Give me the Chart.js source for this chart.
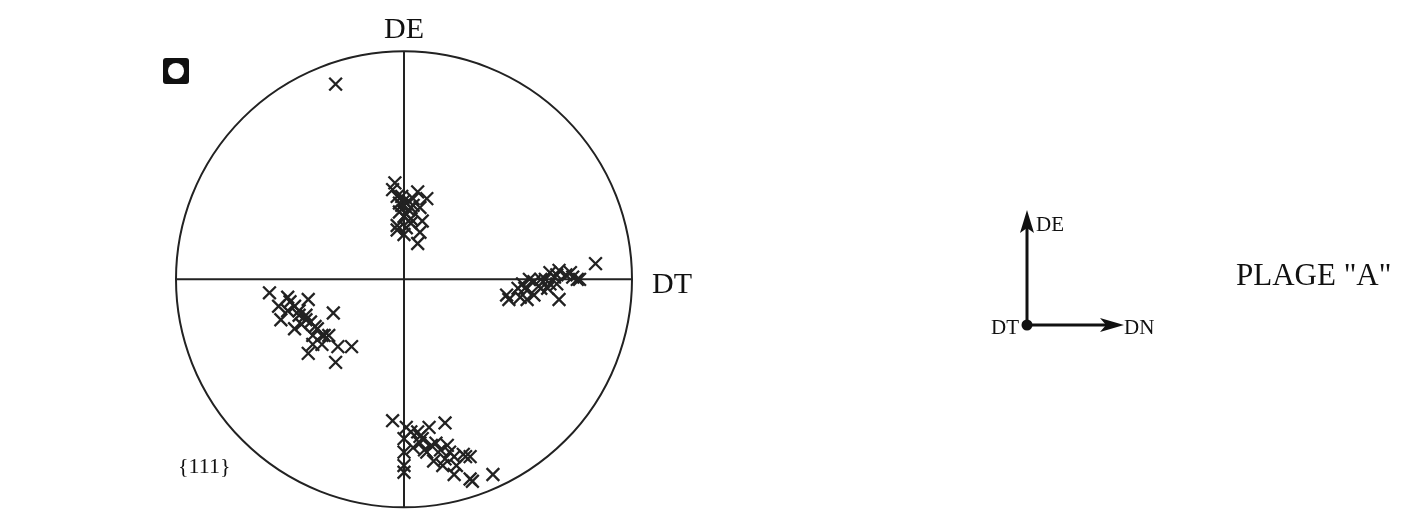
<!DOCTYPE html>
<html><head><meta charset="utf-8">
<script src="https://cdn.jsdelivr.net/npm/chart.js@4/dist/chart.umd.min.js"></script>
<style>
html,body{margin:0;padding:0;background:#fff;}
#wrap{position:relative;width:1409px;height:515px;}
canvas{position:absolute;left:0;top:0;}
.t{position:absolute;font-family:"Liberation Serif","DejaVu Serif",serif;color:#111;white-space:nowrap;line-height:1;}
</style></head><body>
<div id="wrap">
<canvas id="c" width="1409" height="515"></canvas>
<div class="t" style="left:384px;top:13px;font-size:30px;">DE</div>
<div class="t" style="left:652px;top:268px;font-size:30px;">DT</div>
<div class="t" style="left:178px;top:455px;font-size:22px;">{111}</div>
<div class="t" style="left:1036px;top:214px;font-size:21px;">DE</div>
<div class="t" style="left:991px;top:317px;font-size:21px;">DT</div>
<div class="t" style="left:1124px;top:317px;font-size:21px;">DN</div>
<div class="t" style="left:1236px;top:259px;font-size:31px;">PLAGE "A"</div>
</div>
<script>
// Pole figure {111}, coordinates in units of circle radius (x: DT to right, y: DE up)
const poleTop = [[-0.04,0.43],[0.06,0.39],[0.10,0.36],[-0.05,0.40],[-0.03,0.37],[0.00,0.35],[0.04,0.33],[-0.02,0.30],[0.07,0.32],[0.03,0.27],[0.08,0.26],[-0.03,0.24],[0.01,0.23],[0.07,0.21],[-0.03,0.22],[0.06,0.16],[0.00,0.20],[0.01,0.29],[-0.01,0.33],[0.03,0.32],[-0.01,0.37],[0.01,0.34],[0.02,0.31],[0.00,0.28],[0.04,0.36],[-0.02,0.34],[0.03,0.25]];
const poleRight = [[0.84,0.07],[0.45,-0.07],[0.50,-0.04],[0.52,-0.02],[0.55,0.00],[0.60,0.00],[0.64,0.03],[0.68,0.04],[0.71,0.02],[0.76,0.00],[0.77,0.00],[0.57,-0.07],[0.54,-0.09],[0.67,-0.02],[0.63,-0.04],[0.66,0.01],[0.59,-0.03],[0.51,-0.08],[0.46,-0.09],[0.73,0.03],[0.68,-0.09],[0.57,-0.01],[0.62,0.00],[0.64,-0.02],[0.53,-0.04],[0.60,-0.04],[0.67,0.02],[0.74,0.01]];
const poleLeft = [[-0.59,-0.06],[-0.51,-0.08],[-0.42,-0.09],[-0.55,-0.12],[-0.51,-0.14],[-0.46,-0.16],[-0.43,-0.18],[-0.54,-0.18],[-0.31,-0.15],[-0.39,-0.21],[-0.48,-0.22],[-0.35,-0.25],[-0.29,-0.30],[-0.23,-0.30],[-0.40,-0.29],[-0.30,-0.37],[-0.42,-0.33],[-0.36,-0.29],[-0.33,-0.25],[-0.45,-0.20],[-0.48,-0.12],[-0.46,-0.14],[-0.43,-0.16],[-0.41,-0.19],[-0.38,-0.22],[-0.36,-0.25],[-0.50,-0.10],[-0.40,-0.25]];
const poleBottom = [[-0.05,-0.63],[0.01,-0.66],[0.06,-0.68],[0.11,-0.66],[0.18,-0.64],[-0.00,-0.71],[0.08,-0.71],[0.14,-0.73],[0.19,-0.74],[0.04,-0.75],[0.10,-0.77],[0.20,-0.77],[0.26,-0.78],[0.29,-0.79],[-0.00,-0.77],[0.13,-0.81],[0.17,-0.83],[-0.00,-0.83],[-0.00,-0.86],[0.22,-0.87],[0.30,-0.90],[0.39,-0.87],[0.23,-0.83],[0.07,-0.73],[0.03,-0.68],[0.07,-0.70],[0.12,-0.74],[0.16,-0.76],[0.22,-0.79],[0.27,-0.79],[0.09,-0.76],[0.18,-0.80],[0.29,-0.89]];
const poleLone = [[-0.30,0.87]];

const toPts = a => a.map(p => ({x:p[0], y:p[1]}));
const allPoles = [].concat(poleTop, poleRight, poleLeft, poleBottom, poleLone);

const decor = {
  id:'decor',
  afterDraw(chart){
    const {ctx, scales:{x,y}} = chart;
    const cx = x.getPixelForValue(0), cy = y.getPixelForValue(0);
    const r = x.getPixelForValue(1) - cx;
    ctx.save();
    ctx.strokeStyle = '#222'; ctx.lineWidth = 2;
    ctx.beginPath(); ctx.arc(cx, cy, r, 0, Math.PI*2); ctx.stroke();
    ctx.beginPath(); ctx.moveTo(cx - r, cy); ctx.lineTo(cx + r, cy); ctx.stroke();
    ctx.beginPath(); ctx.moveTo(cx, cy - r); ctx.lineTo(cx, cy + r); ctx.stroke();
    // square symbol
    ctx.fillStyle = '#111';
    const sx=163, sy=58, s=26;
    ctx.beginPath(); ctx.roundRect(sx, sy, s, s, 3); ctx.fill();
    ctx.fillStyle = '#fff';
    ctx.beginPath(); ctx.arc(sx+s/2, sy+s/2, 8, 0, Math.PI*2); ctx.fill();
    // reference frame arrows
    ctx.strokeStyle = '#111'; ctx.fillStyle = '#111'; ctx.lineWidth = 3;
    const ox=1027, oy=325;
    ctx.beginPath(); ctx.moveTo(ox, oy); ctx.lineTo(ox, 225); ctx.stroke();
    ctx.beginPath(); ctx.moveTo(ox, 210); ctx.lineTo(ox-7, 233); ctx.lineTo(ox, 228); ctx.lineTo(ox+7, 233); ctx.closePath(); ctx.fill();
    ctx.beginPath(); ctx.moveTo(ox, oy); ctx.lineTo(1110, oy); ctx.stroke();
    ctx.beginPath(); ctx.moveTo(1124, oy); ctx.lineTo(1100, oy-7); ctx.lineTo(1106, oy); ctx.lineTo(1100, oy+7); ctx.closePath(); ctx.fill();
    ctx.beginPath(); ctx.arc(ox, oy, 5.5, 0, Math.PI*2); ctx.fill();
    ctx.restore();
  }
};

new Chart(document.getElementById('c'), {
  type:'scatter',
  data:{datasets:[{
    label:'{111}',
    data: toPts(allPoles),
    pointStyle:'crossRot',
    pointRadius:9,
    pointBorderWidth:2.3,
    borderColor:'#222',
    backgroundColor:'#222'
  }]},
  options:{
    responsive:false,
    animation:false,
    layout:{padding:{left:176,right:777,top:55,bottom:5}},
    plugins:{legend:{display:false},tooltip:{enabled:false}},
    scales:{
      x:{type:'linear',min:-1,max:1,display:false},
      y:{type:'linear',min:-1,max:1,display:false}
    }
  },
  plugins:[decor]
});
</script>
</body></html>
